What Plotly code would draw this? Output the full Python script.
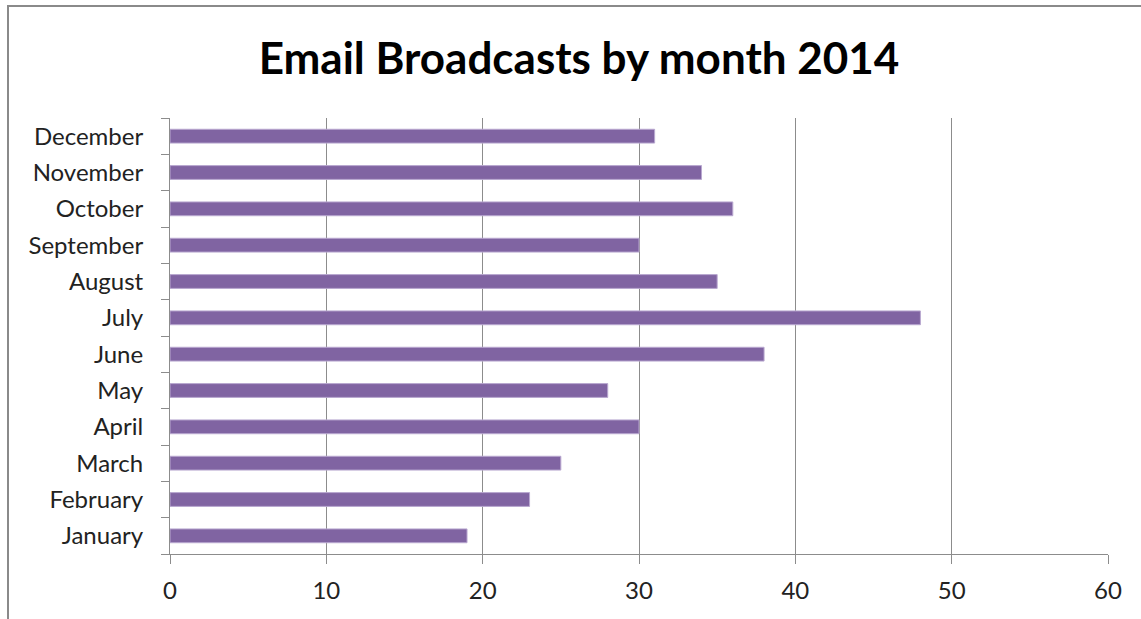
import plotly.graph_objects as go

months = ["January", "February", "March", "April", "May", "June",
          "July", "August", "September", "October", "November", "December"]
broadcasts = [19, 23, 25, 30, 28, 38, 48, 35, 30, 36, 34, 31]
x_ticks = [0, 10, 20, 30, 40, 50, 60]
title_text = "Email Broadcasts by month 2014"

W, H = 1141, 619
L, R, T, B = 170, 33, 118, 65
pw = W - L - R
ph = H - T - B

fig = go.Figure(go.Bar(
    x=broadcasts, y=months, orientation="h",
    marker=dict(color="#8064A2", line=dict(color="#B9A8D0", width=1)),
    width=0.38,
))

fig.update_layout(
    width=W, height=H,
    margin=dict(l=L, r=R, t=T, b=B),
    paper_bgcolor="white", plot_bgcolor="white",
    showlegend=False,
    title=dict(text=title_text, x=579 / W, xref="container", xanchor="center",
               y=1 - 59 / H, yref="container", yanchor="middle",
               font=dict(family="Lato", size=44, color="black", weight="bold")),
    font=dict(family="Lato", size=24, color="#222"),
)
fig.update_xaxes(
    range=[0, 60], tickvals=x_ticks, ticktext=[str(v) for v in x_ticks],
    showgrid=True, gridcolor="#8C8C8C", gridwidth=1,
    showline=True, linecolor="#8C8C8C", linewidth=1,
    ticks="outside", ticklen=9, tickcolor="#8C8C8C",
    ticklabelstandoff=6,
    zeroline=False, tickfont=dict(size=24, color="#222"),
)
fig.update_yaxes(
    categoryorder="array", categoryarray=months,
    showgrid=False, showline=True, linecolor="#8C8C8C", linewidth=1,
    ticks="outside", ticklen=8, tickcolor="#8C8C8C", tickson="boundaries",
    ticklabelstandoff=21, tickfont=dict(size=24, color="#222"),
)

# outer chart frame (partially cropped in reference)
fig.add_shape(type="rect", xref="paper", yref="paper",
              x0=(8 - L) / pw, x1=2.0, y0=-1.0, y1=(H - B - 6) / ph,
              line=dict(color="#8A8A8A", width=2), fillcolor="rgba(0,0,0,0)",
              layer="below")

fig.write_html("out.html",
               config={"displayModeBar": False},
               post_script="document.body.style.margin='0px';document.body.style.overflow='hidden';")
